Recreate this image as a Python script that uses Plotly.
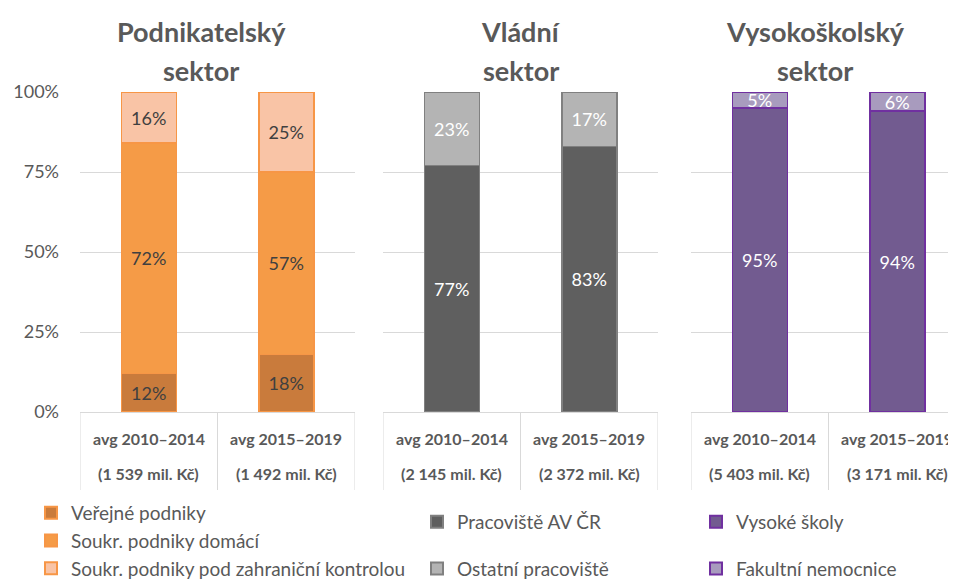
import plotly.graph_objects as go

# ---------------- data ----------------
categories = ["avg 2010–2014", "avg 2015–2019"]

sector_titles = [["Podnikatelský", "sektor"], ["Vládní", "sektor"], ["Vysokoškolský", "sektor"]]

totals_business = ["(1 539 mil. Kč)", "(1 492 mil. Kč)"]
totals_gov = ["(2 145 mil. Kč)", "(2 372 mil. Kč)"]
totals_univ = ["(5 403 mil. Kč)", "(3 171 mil. Kč)"]

verejne_podniky = [12, 18]
soukr_domaci = [72, 57]
soukr_zahranicni = [16, 25]

pracoviste_av = [77, 83]
ostatni_pracoviste = [23, 17]

vysoke_skoly = [95, 94]
fakultni_nemocnice = [5, 6]

y_ticks = [0, 25, 50, 75, 100]
y_ticktext = ["0%", "25%", "50%", "75%", "100%"]

# ---------------- styling ----------------
OFF = 8                      # page body margin
W, H = 956 - OFF, 582 - OFF
FONT = "Lato, Carlito, Calibri, sans-serif"
TXT = "#595959"
GRID = "#D9D9D9"

def px_x(p):   # page pixel -> paper fraction
    return (p - OFF) / W

def px_y(p):
    return 1 - (p - OFF) / H

panels = [
    dict(dom=(80, 355), rng=[-0.5, 1.5], title_x=201),
    dict(dom=(383, 658), rng=[-0.5, 1.5], title_x=521),
    dict(dom=(691, 956), rng=[-0.5, -0.5 + 265 / 137.5], title_x=815),
]

series = [
    # panel, name, values, fill, line, text color, legend
    (1, "Veřejné podniky", verejne_podniky, "#C97B3C", "#F79646", "#404040", "legend"),
    (1, "Soukr. podniky domácí", soukr_domaci, "#F59B47", "#F79646", "#404040", "legend"),
    (1, "Soukr. podniky pod zahraniční kontrolou", soukr_zahranicni, "#F9C4A6", "#F79646", "#404040", "legend"),
    (2, "Pracoviště AV ČR", pracoviste_av, "#5F5F5F", "#808080", "#FFFFFF", "legend2"),
    (2, "Ostatní pracoviště", ostatni_pracoviste, "#B4B4B4", "#808080", "#FFFFFF", "legend2"),
    (3, "Vysoké školy", vysoke_skoly, "#725B90", "#7030A0", "#FFFFFF", "legend3"),
    (3, "Fakultní nemocnice", fakultni_nemocnice, "#A89BBE", "#7030A0", "#FFFFFF", "legend3"),
]

fig = go.Figure()

for i, (panel, name, vals, fill, line, tcol, leg) in enumerate(series):
    ax = "" if panel == 1 else str(panel)
    fig.add_trace(go.Bar(
        x=[0, 1], y=vals, name=name,
        xaxis="x" + ax, yaxis="y" + ax,
        marker=dict(color=fill, line=dict(color=line, width=1.5)),
        width=0.4,
        text=[f"{v}%" for v in vals],
        textposition="inside", insidetextanchor="middle",
        constraintext="none",
        textfont=dict(family=FONT, size=18, color=tcol),
        legend=leg, legendgroup=name,
        hoverinfo="skip",
    ))

layout = dict(
    width=W, height=H,
    margin=dict(l=0, r=0, t=0, b=0, autoexpand=False),
    paper_bgcolor="white", plot_bgcolor="white",
    barmode="stack",
    font=dict(family=FONT, color=TXT),
    showlegend=True,
)

for k, p in enumerate(panels):
    ax = "" if k == 0 else str(k + 1)
    layout["xaxis" + ax] = dict(
        domain=[px_x(p["dom"][0]), min(1.0, px_x(p["dom"][1]))],
        range=p["rng"], showticklabels=False, showgrid=False, zeroline=False,
        showline=False, anchor="y" + ax, fixedrange=True,
    )
    layout["yaxis" + ax] = dict(
        domain=[px_y(412), px_y(92)], range=[0, 100],
        tickvals=y_ticks, ticktext=y_ticktext, showticklabels=(k == 0),
        tickfont=dict(size=18, color=TXT, family=FONT),
        gridcolor=GRID, gridwidth=1, zeroline=True, zerolinecolor=GRID, zerolinewidth=1,
        showline=False, anchor="x" + ax, ticks="", ticklabelstandoff=20, fixedrange=True,
        automargin=False,
    )

leg_common = dict(font=dict(family=FONT, size=19, color=TXT), bgcolor="rgba(0,0,0,0)",
                  traceorder="grouped", xanchor="left", yanchor="top",
                  itemwidth=30, itemsizing="constant")
layout["legend"] = dict(leg_common, x=px_x(31), y=px_y(494), tracegroupgap=0)
layout["legend2"] = dict(leg_common, x=px_x(417), y=px_y(503), tracegroupgap=19)
layout["legend3"] = dict(leg_common, x=px_x(696), y=px_y(503), tracegroupgap=19)

fig.update_layout(**layout)

annotations = []
shapes = []
all_totals = [totals_business, totals_gov, totals_univ]
for k, p in enumerate(panels):
    ax = "" if k == 0 else str(k + 1)
    # titles
    for j, line in enumerate(sector_titles[k]):
        annotations.append(dict(
            text=f"<b>{line}</b>", x=px_x(p["title_x"]), y=px_y(32 + 38 * j),
            xref="paper", yref="paper", showarrow=False, xanchor="center", yanchor="middle",
            font=dict(family=FONT, size=27, color=TXT),
        ))
    # category labels (two-level)
    for c in range(len(categories)):
        annotations.append(dict(
            text=f"<b>{categories[c]}</b>", x=c, y=px_y(438), xref="x" + ax, yref="paper",
            showarrow=False, xanchor="center", yanchor="middle",
            font=dict(family=FONT, size=16, color=TXT),
        ))
        annotations.append(dict(
            text=f"<b>{all_totals[k][c]}</b>", x=c, y=px_y(473), xref="x" + ax, yref="paper",
            showarrow=False, xanchor="center", yanchor="middle",
            font=dict(family=FONT, size=16, color=TXT),
        ))
    # separator lines of category table
    for xv in [-0.5, 0.5, 1.5]:
        shapes.append(dict(type="line", xref="x" + ax, yref="paper", x0=xv, x1=xv,
                           y0=px_y(412), y1=px_y(490), line=dict(color=GRID, width=1)))

fig.update_layout(annotations=annotations, shapes=shapes)

fig.write_html("out.html")
